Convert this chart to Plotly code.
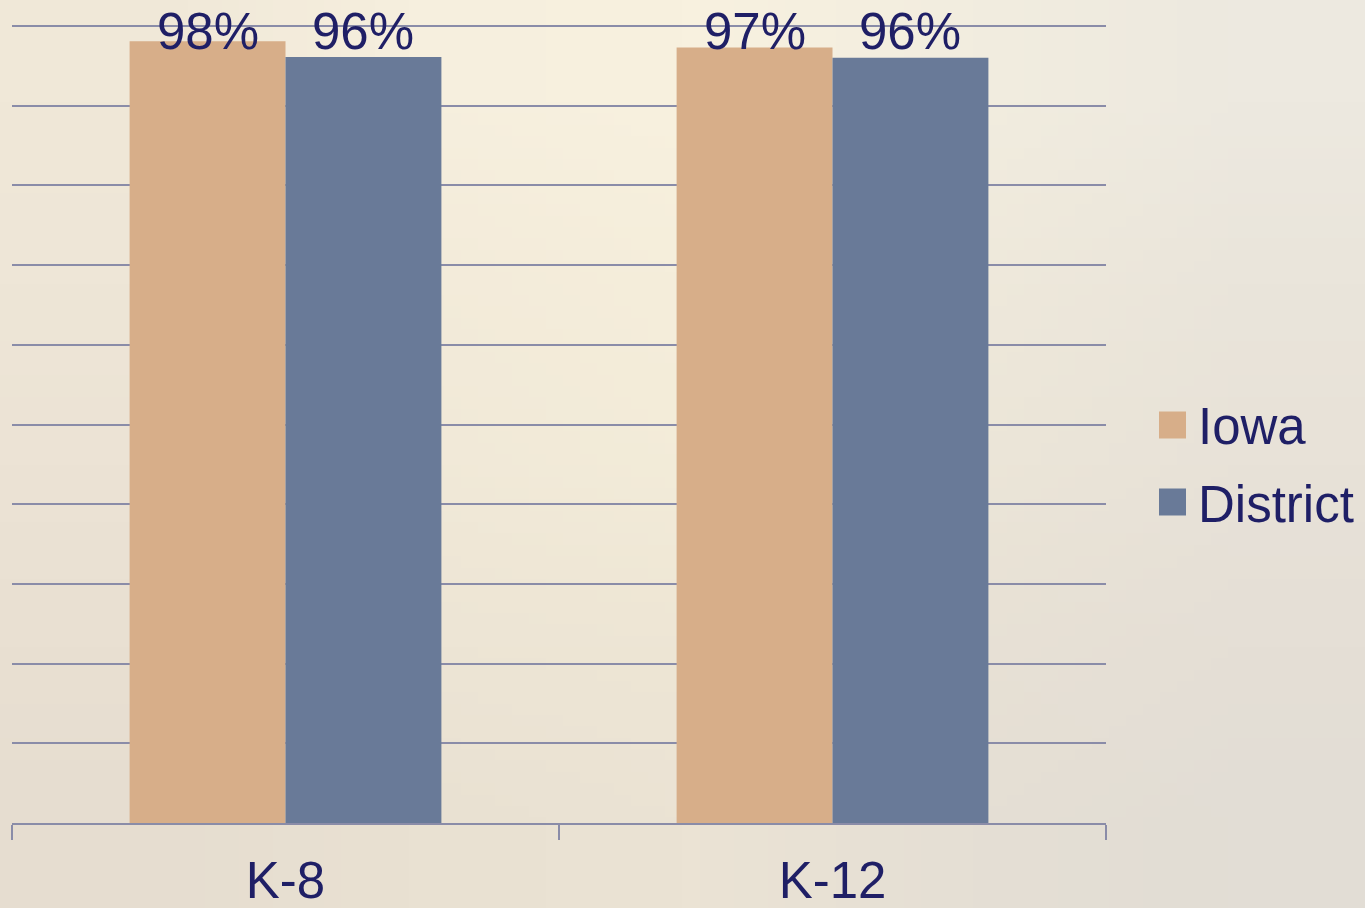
import base64
import struct
import zlib

import plotly.graph_objects as go

# ---------------- data ----------------
categories = ["K-8", "K-12"]
iowa_values = [0.981, 0.973]
district_values = [0.961, 0.960]
iowa_labels = ["98%", "97%"]
district_labels = ["96%", "96%"]
series_names = ["Iowa", "District"]

# ---------------- style ----------------
IOWA_COLOR = "#d7ae89"
DISTRICT_COLOR = "#697a98"
TEXT_COLOR = "#1f1f66"
GRID_COLOR = "#8a8ca8"
FONT = "Liberation Sans, Arial, sans-serif"
BARGAP = 0.43


def gradient_png(grid):
    raw = b""
    for row in grid:
        raw += b"\x00"
        for hexc in row:
            hexc = hexc.lstrip("#")
            raw += bytes(int(hexc[i:i + 2], 16) for i in (0, 2, 4))

    def chunk(tag, data):
        c = struct.pack(">I", len(data)) + tag + data
        return c + struct.pack(">I", zlib.crc32(tag + data) & 0xFFFFFFFF)

    png = b"\x89PNG\r\n\x1a\n"
    png += chunk(b"IHDR", struct.pack(">IIBBBBB", len(grid[0]), len(grid), 8, 2, 0, 0, 0))
    png += chunk(b"IDAT", zlib.compress(raw))
    png += chunk(b"IEND", b"")
    return "data:image/png;base64," + base64.b64encode(png).decode()


bg_grid = [
    ["#f0e8d8", "#f6efde", "#f8f1df", "#f2eddf", "#ede9e0"],
    ["#eee6d7", "#f3ebda", "#f5eedb", "#efe9db", "#eae5db"],
    ["#ece3d5", "#f1e9d8", "#f3ecd9", "#ece6d8", "#e8e2d8"],
    ["#e9e0d2", "#ede5d5", "#eee6d5", "#e8e1d5", "#e5dfd6"],
    ["#e6ddd0", "#e9e1d2", "#ebe3d4", "#e5dfd4", "#e2ddd5"],
]

W, H = 1365, 908
L, R, T, B = 12, 259, 24, 85
PW, PH = W - L - R, H - T - B
Y_TOP = 1.0025

fig = go.Figure()
fig.add_trace(go.Bar(x=categories, y=iowa_values, name=series_names[0],
                     marker=dict(color=IOWA_COLOR, line=dict(width=0)),
                     showlegend=False))
fig.add_trace(go.Bar(x=categories, y=district_values, name=series_names[1],
                     marker=dict(color=DISTRICT_COLOR, line=dict(width=0)),
                     showlegend=False))

# value labels at a fixed height near the top, centred on each bar
bar_w = (1 - BARGAP) / 2
annotations = []
for i, cat in enumerate(categories):
    for j, labels in enumerate([iowa_labels, district_labels]):
        xpos = i + (j - 0.5) * bar_w
        annotations.append(dict(
            x=xpos, xref="x", y=1, yref="paper", yanchor="middle", yshift=-7,
            text=labels[i], showarrow=False,
            font=dict(family=FONT, size=51, color=TEXT_COLOR)))

# custom legend with large square swatches
legend_colors = [IOWA_COLOR, DISTRICT_COLOR]
legend_y = [425, 502]  # pixel centres
shapes = []
for name, col, py in zip(series_names, legend_colors, legend_y):
    yc = (H - B - py) / PH
    half = 13.5 / PH
    shapes.append(dict(type="rect", xref="paper", yref="paper",
                       x0=(1159 - L) / PW, x1=(1186 - L) / PW,
                       y0=yc - half, y1=yc + half,
                       fillcolor=col, line=dict(width=0)))
    annotations.append(dict(
        x=(1196 - L) / PW, xref="paper", xanchor="left",
        y=yc, yref="paper", yanchor="middle", yshift=-2,
        text=name, showarrow=False,
        font=dict(family=FONT, size=51, color=TEXT_COLOR)))

fig.update_layout(
    width=W, height=H,
    margin=dict(l=L, r=R, t=T, b=B, autoexpand=False),
    paper_bgcolor="#efe8da",
    plot_bgcolor="rgba(0,0,0,0)",
    barmode="group", bargap=BARGAP, bargroupgap=0,
    showlegend=False,
    font=dict(family=FONT, color=TEXT_COLOR),
    annotations=annotations,
    shapes=shapes,
    images=[dict(source=gradient_png(bg_grid), xref="paper", yref="paper",
                 x=-L / PW, y=1 + T / PH, sizex=W / PW, sizey=H / PH,
                 xanchor="left", yanchor="top", sizing="stretch",
                 layer="below", opacity=1)],
)

fig.update_xaxes(
    automargin=False,
    showgrid=False, showline=True, linecolor=GRID_COLOR, linewidth=2,
    ticks="outside", tickson="boundaries", ticklen=15, tickwidth=2,
    tickcolor=GRID_COLOR,
    tickfont=dict(family=FONT, size=51, color=TEXT_COLOR),
    ticklabelstandoff=12,
)
fig.update_yaxes(
    automargin=False,
    range=[0, Y_TOP], tickvals=[i / 10 for i in range(1, 11)],
    showticklabels=False,
    showgrid=True, gridcolor=GRID_COLOR, gridwidth=2,
    zeroline=False, showline=False,
)

fig.write_html(
    "out.html",
    config={"displayModeBar": False},
    post_script="document.body.style.margin='0';document.body.style.overflow='hidden';",
)
